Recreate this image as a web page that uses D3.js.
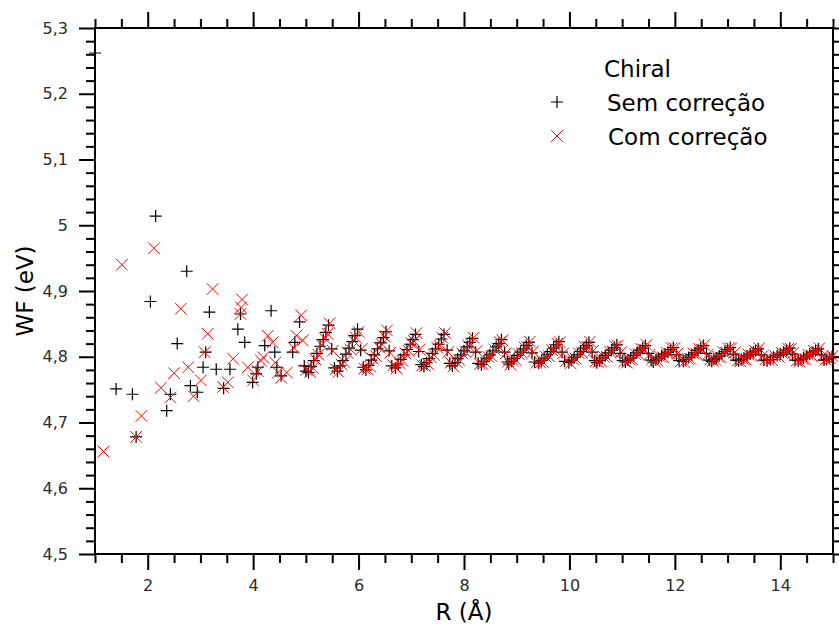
<!DOCTYPE html>
<html>
<head>
<meta charset="utf-8">
<title>Chiral WF</title>
<script src="https://d3js.org/d3.v7.min.js"></script>
<style>
  body { margin: 0; background: #fff; }
  svg text { font-family: "DejaVu Sans", sans-serif; }
</style>
</head>
<body>
<svg id="chart"></svg>
<script>
// axis ticks
var xMajor = [2, 4, 6, 8, 10, 12, 14];
var yMajor = [4.5, 4.6, 4.7, 4.8, 4.9, 5.0, 5.1, 5.2, 5.3];

// legend
var legendTitle = "Chiral";
var seriesNames = ["Sem correção", "Com correção"];

// scattered points at short R
var rSemSparse = [1.00,1.40,1.71,1.78,2.05,2.15,2.36,2.43,2.56,2.74,2.81,2.94,3.05,3.10,3.17,3.30,3.44,3.56,3.71,3.76,
                  3.84,3.99,4.06,4.09,4.22,4.34,4.41,4.45,4.53,4.75,4.79,4.88,4.97,5.00];
var wfSemSparse = [5.262,4.751,4.743,4.678,4.884,5.014,4.718,4.743,4.820,4.930,4.756,4.746,4.784,4.807,4.868,4.781,4.752,4.781,4.842,4.865,
                   4.822,4.761,4.774,4.784,4.817,4.870,4.807,4.784,4.771,4.807,4.822,4.853,4.786,4.778];

var rComSparse = [1.16,1.51,1.78,1.88,2.12,2.25,2.43,2.50,2.63,2.77,2.87,3.01,3.08,3.14,3.23,3.43,3.52,3.62,3.76,3.77,
                  3.79,3.90,4.00,4.09,4.15,4.19,4.28,4.37,4.42,4.47,4.53,4.64,4.77,4.82,4.91,4.94,5.01];
var wfComSparse = [4.656,4.940,4.678,4.710,4.965,4.753,4.738,4.775,4.873,4.784,4.740,4.764,4.807,4.835,4.903,4.754,4.761,4.797,4.865,4.875,
                   4.887,4.784,4.764,4.778,4.794,4.799,4.832,4.822,4.791,4.776,4.768,4.776,4.814,4.832,4.863,4.825,4.780];

// dense part (R > 5)
var rSemDense = [
  5.05,5.10,5.15,5.21,5.27,5.33,5.38,5.43,5.49,5.54,
  5.60,5.65,5.70,5.76,5.82,5.88,5.93,5.98,6.04,6.09,
  6.14,6.19,6.24,6.30,6.36,6.42,6.47,6.52,6.58,6.63,
  6.70,6.75,6.80,6.86,6.92,6.98,7.03,7.08,7.14,7.19,
  7.24,7.29,7.34,7.40,7.46,7.52,7.57,7.62,7.68,7.73,
  7.78,7.83,7.88,7.94,8.00,8.06,8.11,8.16,8.22,8.27,
  8.33,8.38,8.43,8.49,8.55,8.61,8.66,8.71,8.77,8.82,
  8.85,8.90,8.95,9.01,9.07,9.13,9.18,9.23,9.29,9.34,
  9.42,9.47,9.52,9.58,9.64,9.70,9.75,9.80,9.86,9.91,
  9.99,10.04,10.09,10.15,10.21,10.27,10.32,10.37,10.43,10.48,
  10.52,10.57,10.62,10.68,10.74,10.80,10.85,10.90,10.96,11.01,
  11.06,11.11,11.16,11.22,11.28,11.34,11.39,11.44,11.50,11.55,
  11.59,11.64,11.69,11.75,11.81,11.87,11.92,11.97,12.03,12.08,
  12.16,12.21,12.26,12.32,12.38,12.44,12.49,12.54,12.60,12.65,
  12.70,12.74,12.79,12.84,12.89,12.95,13.00,13.05,13.11,13.16,
  13.21,13.26,13.31,13.37,13.43,13.49,13.53,13.58,13.64,13.69,
  13.75,13.81,13.87,13.94,14.00,14.06,14.12,14.18,14.23,14.28,
  14.34,14.39,14.44,14.50,14.56,14.62,14.67,14.72,14.78,14.83,
  14.88,14.93,14.98];

var wfSemDense = [
  4.776,4.785,4.794,4.805,4.816,4.826,4.837,4.848,4.812,4.783,
  4.778,4.786,4.794,4.804,4.813,4.823,4.832,4.842,4.810,4.784,
  4.780,4.787,4.795,4.803,4.812,4.821,4.829,4.838,4.809,4.786,
  4.783,4.789,4.796,4.803,4.811,4.819,4.826,4.834,4.808,4.788,
  4.785,4.791,4.797,4.805,4.812,4.819,4.827,4.834,4.810,4.790,
  4.786,4.791,4.797,4.803,4.809,4.815,4.822,4.828,4.807,4.790,
  4.788,4.793,4.798,4.803,4.809,4.815,4.820,4.826,4.807,4.792,
  4.789,4.793,4.797,4.802,4.807,4.812,4.817,4.822,4.806,4.792,
  4.790,4.794,4.798,4.803,4.808,4.813,4.818,4.823,4.807,4.793,
  4.791,4.795,4.799,4.803,4.808,4.813,4.817,4.822,4.807,4.794,
  4.791,4.794,4.798,4.802,4.806,4.810,4.814,4.818,4.805,4.794,
  4.792,4.795,4.798,4.802,4.806,4.810,4.813,4.817,4.805,4.795,
  4.792,4.795,4.798,4.801,4.804,4.807,4.811,4.814,4.803,4.794,
  4.793,4.796,4.799,4.803,4.806,4.810,4.813,4.817,4.805,4.795,
  4.793,4.796,4.798,4.801,4.805,4.808,4.811,4.814,4.804,4.795,
  4.794,4.796,4.798,4.801,4.804,4.807,4.809,4.812,4.803,4.795,
  4.794,4.796,4.799,4.802,4.804,4.807,4.810,4.813,4.804,4.795,
  4.794,4.796,4.798,4.801,4.804,4.807,4.809,4.812,4.803,4.795,
  4.796,4.798,4.800];

var rComDense = [
  5.08,5.13,5.18,5.24,5.30,5.36,5.41,5.45,5.51,5.57,
  5.62,5.68,5.73,5.79,5.85,5.90,5.95,6.00,6.06,6.11,
  6.17,6.22,6.27,6.33,6.39,6.44,6.49,6.54,6.60,6.66,
  6.72,6.78,6.83,6.89,6.95,7.00,7.05,7.10,7.16,7.21,
  7.26,7.32,7.37,7.43,7.49,7.54,7.59,7.64,7.70,7.75,
  7.80,7.86,7.91,7.97,8.03,8.08,8.13,8.18,8.24,8.30,
  8.35,8.41,8.46,8.52,8.58,8.63,8.68,8.73,8.79,8.84,
  8.88,8.93,8.98,9.04,9.10,9.15,9.20,9.25,9.31,9.37,
  9.45,9.50,9.55,9.61,9.67,9.72,9.77,9.82,9.88,9.94,
  10.02,10.07,10.12,10.18,10.24,10.29,10.34,10.39,10.45,10.50,
  10.55,10.60,10.65,10.71,10.77,10.82,10.87,10.92,10.98,11.04,
  11.09,11.14,11.19,11.25,11.31,11.36,11.41,11.46,11.52,11.57,
  11.62,11.67,11.72,11.78,11.84,11.89,11.94,11.99,12.05,12.11,
  12.18,12.24,12.29,12.35,12.41,12.46,12.51,12.56,12.62,12.68,
  12.72,12.77,12.82,12.87,12.92,12.97,13.02,13.07,13.13,13.19,
  13.24,13.29,13.34,13.40,13.46,13.51,13.55,13.60,13.66,13.72,
  13.78,13.84,13.90,13.97,14.03,14.09,14.15,14.20,14.25,14.31,
  14.36,14.42,14.47,14.53,14.59,14.64,14.69,14.74,14.80,14.86,
  14.90,14.95,14.99];

var wfComDense = [
  4.777,4.783,4.796,4.803,4.818,4.828,4.835,4.851,4.809,4.781,
  4.777,4.788,4.792,4.806,4.811,4.825,4.829,4.838,4.812,4.782,
  4.781,4.785,4.797,4.801,4.814,4.819,4.831,4.840,4.806,4.787,
  4.782,4.790,4.794,4.805,4.809,4.821,4.824,4.836,4.811,4.787,
  4.786,4.789,4.799,4.803,4.814,4.817,4.829,4.836,4.807,4.791,
  4.785,4.792,4.795,4.805,4.807,4.817,4.820,4.829,4.809,4.789,
  4.789,4.791,4.800,4.801,4.811,4.813,4.822,4.825,4.805,4.793,
  4.788,4.794,4.795,4.804,4.805,4.814,4.815,4.823,4.808,4.791,
  4.791,4.792,4.800,4.801,4.810,4.811,4.820,4.822,4.805,4.794,
  4.790,4.796,4.797,4.805,4.806,4.815,4.815,4.823,4.809,4.793,
  4.792,4.793,4.800,4.800,4.808,4.808,4.816,4.817,4.807,4.793,
  4.791,4.796,4.796,4.804,4.804,4.812,4.811,4.818,4.803,4.796,
  4.793,4.794,4.800,4.799,4.806,4.805,4.813,4.813,4.805,4.793,
  4.792,4.797,4.797,4.805,4.804,4.812,4.811,4.818,4.803,4.796,
  4.794,4.795,4.800,4.799,4.807,4.806,4.813,4.813,4.806,4.794,
  4.793,4.797,4.796,4.803,4.802,4.809,4.807,4.813,4.801,4.796,
  4.795,4.795,4.801,4.800,4.806,4.805,4.812,4.812,4.806,4.794,
  4.793,4.797,4.796,4.803,4.802,4.809,4.807,4.813,4.801,4.796,
  4.797,4.797,4.801];

var W = 839, H = 627;
var margin = {top: 28, right: 6, bottom: 73, left: 95};
var width = W - margin.left - margin.right,
    height = H - margin.top - margin.bottom;

var svg = d3.select("#chart").attr("width", W).attr("height", H);
var g = svg.append("g").attr("transform", "translate(" + margin.left + "," + margin.top + ")");

var x = d3.scaleLinear().domain([1, 15]).range([0, width]);
var y = d3.scaleLinear().domain([4.5, 5.3]).range([height, 0]);

// minor tick positions
var xMinor = d3.range(2, 31).map(function(i) { return i / 2; }).filter(function(v) { return v % 2 !== 0; });
var yMinor = d3.range(225, 266).map(function(i) { return i / 50; }).filter(function(v) { return Math.abs(v * 10 - Math.round(v * 10)) > 1e-6; });

function fmtY(d) { return String(+d.toFixed(1)).replace(".", ","); }

function styleAxis(sel) {
  sel.select(".domain").remove();
  sel.selectAll("line").attr("stroke", "#000").attr("stroke-width", 2);
  sel.selectAll("text").attr("fill", "#2b2b2b").style("font-size", "16px");
}

// bottom
g.append("g").attr("transform", "translate(0," + height + ")")
  .call(d3.axisBottom(x).tickValues(xMajor).tickSize(16).tickPadding(10).tickFormat(d3.format("d")))
  .call(styleAxis);
g.append("g").attr("transform", "translate(0," + height + ")")
  .call(d3.axisBottom(x).tickValues(xMinor).tickSize(9).tickFormat(""))
  .call(styleAxis);
// top
g.append("g")
  .call(d3.axisTop(x).tickValues(xMajor).tickSize(16).tickFormat(""))
  .call(styleAxis);
g.append("g")
  .call(d3.axisTop(x).tickValues(xMinor).tickSize(9).tickFormat(""))
  .call(styleAxis);
// left
g.append("g")
  .call(d3.axisLeft(y).tickValues(yMajor).tickSize(16).tickPadding(11).tickFormat(fmtY))
  .call(styleAxis);
g.append("g")
  .call(d3.axisLeft(y).tickValues(yMinor).tickSize(9).tickFormat(""))
  .call(styleAxis);
// right
g.append("g").attr("transform", "translate(" + width + ",0)")
  .call(d3.axisRight(y).tickValues(yMajor).tickSize(16).tickFormat(""))
  .call(styleAxis);
g.append("g").attr("transform", "translate(" + width + ",0)")
  .call(d3.axisRight(y).tickValues(yMinor).tickSize(9).tickFormat(""))
  .call(styleAxis);

g.append("rect")
  .attr("width", width).attr("height", height)
  .attr("fill", "none").attr("stroke", "#000").attr("stroke-width", 2);

// data
var semR = rSemSparse.concat(rSemDense), semWF = wfSemSparse.concat(wfSemDense);
var comR = rComSparse.concat(rComDense), comWF = wfComSparse.concat(wfComDense);
var sem = semR.map(function(r, i) { return [r, semWF[i]]; });
var com = comR.map(function(r, i) { return [r, comWF[i]]; });

var plusPath = "M-6,0H6M0,-6V6";
var crossPath = "M-5.8,-5.8L5.8,5.8M-5.8,5.8L5.8,-5.8";

g.append("g").selectAll("path").data(sem).enter().append("path")
  .attr("d", plusPath)
  .attr("transform", function(d) { return "translate(" + x(d[0]) + "," + y(d[1]) + ")"; })
  .attr("stroke", "#000").attr("stroke-width", 1.2).attr("fill", "none");

g.append("g").selectAll("path").data(com).enter().append("path")
  .attr("d", crossPath)
  .attr("transform", function(d) { return "translate(" + x(d[0]) + "," + y(d[1]) + ")"; })
  .attr("stroke", "#ff0000").attr("stroke-width", 1).attr("fill", "none");

// axis titles
svg.append("text")
  .attr("x", margin.left + width / 2).attr("y", 620)
  .attr("text-anchor", "middle").style("font-size", "23px").attr("fill", "#000")
  .text("R (Å)");
svg.append("text")
  .attr("transform", "translate(33," + (margin.top + height / 2) + ") rotate(-90)")
  .attr("text-anchor", "middle").style("font-size", "23px").attr("fill", "#000")
  .text("WF (eV)");

// legend
var leg = svg.append("g");
leg.append("text").attr("x", 604).attr("y", 77).style("font-size", "23px").text(legendTitle);
leg.append("path").attr("d", plusPath).attr("transform", "translate(557,102)")
  .attr("stroke", "#000").attr("stroke-width", 1.2);
leg.append("text").attr("x", 607).attr("y", 111).style("font-size", "23px").text(seriesNames[0]);
leg.append("path").attr("d", crossPath).attr("transform", "translate(557,136)")
  .attr("stroke", "#ff0000").attr("stroke-width", 1);
leg.append("text").attr("x", 608).attr("y", 145).style("font-size", "23px").text(seriesNames[1]);
</script>
</body>
</html>
